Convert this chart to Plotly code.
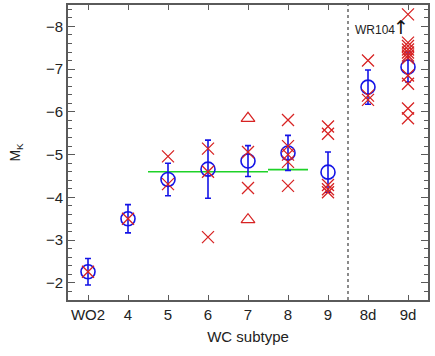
import plotly.graph_objects as go

categories = ["WO2", "4", "5", "6", "7", "8", "9", "8d", "9d"]
mean_mk = [-2.26, -3.50, -4.42, -4.66, -4.85, -5.04, -4.59, -6.58, -7.05]
mean_err = [0.31, 0.33, 0.38, 0.68, 0.36, 0.41, 0.47, 0.40, 0.35]

star_mk = {
    "WO2": [-2.26],
    "4": [-3.50],
    "5": [-4.96, -4.31],
    "6": [-5.14, -4.60, -3.07],
    "7": [-5.06, -4.22],
    "8": [-5.81, -5.20, -5.00, -4.83, -4.27],
    "9": [-5.66, -5.49, -4.29, -4.19, -4.12],
    "8d": [-7.20, -6.38, -6.28],
    "9d": [-8.28, -7.62, -7.54, -7.46, -7.39, -7.32, -7.26, -6.85, -6.66, -6.08, -5.85],
}
tri_cat = ["7", "7"]
tri_mk = [-5.85, -3.48]

# average levels: (first category, last category, value)
avg_levels = [("5", "7", -4.60), ("8", "8", -4.65)]

idx = {c: i for i, c in enumerate(categories)}
red = "rgb(215,35,35)"
blue = "rgb(20,20,230)"
green = "rgb(30,210,40)"
font = "Liberation Sans, Arial"

fig = go.Figure()

for a, b, v in avg_levels:
    fig.add_trace(go.Scatter(x=[idx[a] - 0.5, idx[b] + 0.5], y=[v, v], mode="lines",
                             line=dict(color=green, width=1.6), showlegend=False))

fig.add_trace(go.Scatter(x=list(range(len(categories))), y=mean_mk, mode="markers",
                         marker=dict(symbol="circle-open", size=14, color=blue, line=dict(color=blue, width=1.6)),
                         error_y=dict(type="data", array=mean_err, color=blue, thickness=1.6, width=3),
                         showlegend=False))

sx, sy = [], []
for c in categories:
    for v in star_mk[c]:
        sx.append(idx[c]); sy.append(v)
fig.add_trace(go.Scatter(x=sx, y=sy, mode="markers",
                         marker=dict(symbol="x-thin-open", size=12, color=red, line=dict(color=red, width=1.3)),
                         showlegend=False))

fig.add_trace(go.Scatter(x=[idx[c] for c in tri_cat], y=tri_mk, mode="markers",
                         marker=dict(symbol="triangle-up-open", size=12, color=red, line=dict(color=red, width=1.2)),
                         showlegend=False))

fig.add_shape(type="line", x0=6.5, x1=6.5, xref="x", yref="paper", y0=0, y1=1,
              line=dict(color="rgb(110,110,110)", width=1.6, dash="dot"))

fig.add_annotation(x=7.17, y=-7.92, text="WR104", showarrow=False,
                   font=dict(family=font, size=12, color="#222"))
fig.add_annotation(x=7.83, y=-7.98, text="↑", showarrow=False,
                   font=dict(family="DejaVu Sans ExtraLight, DejaVu Sans", size=19, color="#111"))

axis_col = "rgb(90,90,90)"
fig.update_xaxes(range=[-0.5, 8.5], tickvals=list(range(len(categories))), ticktext=categories,
                 ticks="inside", ticklen=5, tickwidth=1.2, tickcolor=axis_col,
                 showline=True, linecolor=axis_col, linewidth=1.8, mirror="allticks",
                 showgrid=False, zeroline=False,
                 tickfont=dict(family=font, size=15, color="#222"),
                 title=dict(text="WC subtype", font=dict(family=font, size=15, color="#222"),
                            standoff=10))
fig.update_yaxes(range=[-1.6, -8.5], tickvals=[-2, -3, -4, -5, -6, -7, -8],
                 ticks="inside", ticklen=7, tickwidth=1.2, tickcolor=axis_col,
                 minor=dict(dtick=0.2, ticks="inside", ticklen=4, tickcolor=axis_col, tickwidth=1),
                 showline=True, linecolor=axis_col, linewidth=1.8, mirror="allticks",
                 showgrid=False, zeroline=False,
                 tickfont=dict(family=font, size=15, color="#222"),
                 title=dict(text="M<sub>K</sub>", font=dict(family=font, size=14, color="#222"),
                            standoff=22))

fig.update_layout(width=435, height=356, margin=dict(l=68, r=7, t=3, b=56),
                  plot_bgcolor="white", paper_bgcolor="white")

fig.write_html("out.html")
